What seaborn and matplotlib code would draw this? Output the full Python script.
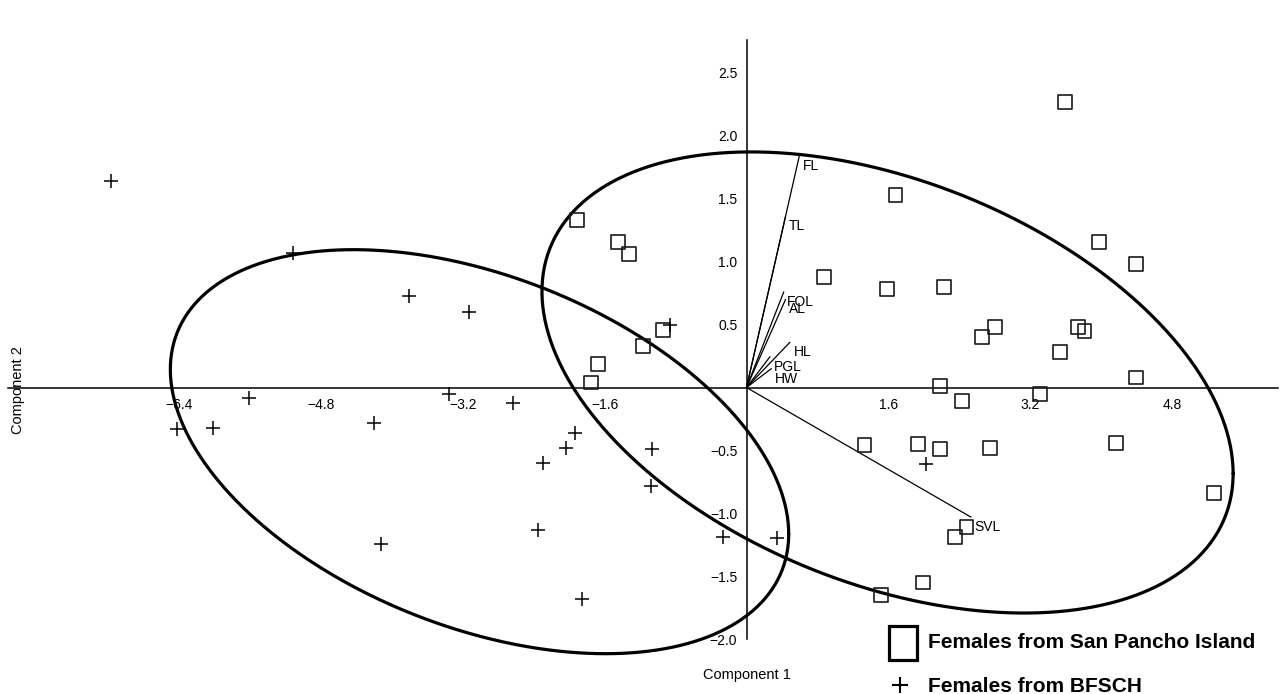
import numpy as np
import matplotlib
matplotlib.use("Agg")
import matplotlib.pyplot as plt
from matplotlib.patches import Rectangle
from matplotlib.lines import Line2D
import seaborn as sns

# PCA scores, females from San Pancho Island
pancho_pc1 = [-1.91, -1.45, -1.32, -0.94, -1.17, -1.67, -1.75,
              3.59, 1.68, 3.97, 4.39, 0.87, 1.58, 2.23, 2.80, 2.65, 3.74, 3.81,
              3.53, 4.39, 2.18, 2.43, 3.31, 1.33, 1.93, 2.18, 2.75, 4.17, 5.27,
              2.48, 2.35, 1.99, 1.52]
pancho_pc2 = [1.33, 1.16, 1.06, 0.46, 0.33, 0.19, 0.04,
              2.27, 1.53, 1.16, 0.98, 0.88, 0.78, 0.80, 0.48, 0.40, 0.48, 0.45,
              0.28, 0.08, 0.01, -0.11, -0.05, -0.46, -0.45, -0.49, -0.48, -0.44, -0.84,
              -1.11, -1.19, -1.55, -1.65]

# PCA scores, females from BFSCH
bfsch_pc1 = [-7.17, -5.11, -3.81, -3.13, -5.61, -6.42, -6.02, -4.20, -3.35, -2.63,
             -1.93, -2.04, -2.29, -1.06, -1.08, -2.35, -4.12, -0.26, 0.34, -1.86,
             -0.86, 2.02]
bfsch_pc2 = [1.64, 1.07, 0.73, 0.60, -0.08, -0.33, -0.32, -0.28, -0.05, -0.12,
             -0.36, -0.48, -0.60, -0.49, -0.78, -1.13, -1.24, -1.19, -1.20, -1.68,
             0.50, -0.61]

# Variable loadings (biplot vectors)
loading_names = ["FL", "TL", "FOL", "AL", "HL", "PGL", "HW", "SVL"]
loading_pc1 = [0.595, 0.44, 0.42, 0.44, 0.49, 0.265, 0.28, 2.53]
loading_pc2 = [1.84, 1.36, 0.76, 0.70, 0.36, 0.245, 0.15, -1.03]

# 95% ellipses: centre and covariance of each group
pancho_center = [1.59, 0.04]
pancho_cov = [[15.18, -2.82], [-2.82, 3.358]]
bfsch_center = [-3.01, -0.51]
bfsch_cov = [[12.15, -2.28], [-2.28, 2.578]]

x_ticks = [-6.4, -4.8, -3.2, -1.6, 1.6, 3.2, 4.8]
y_ticks = [-2.0, -1.5, -1.0, -0.5, 0.5, 1.0, 1.5, 2.0, 2.5]

legend_labels = ["Females from San Pancho Island", "Females from BFSCH"]

sns.set_style("white")
plt.rcParams["font.family"] = ["Liberation Sans", "DejaVu Sans"]
plt.rcParams["text.color"] = "black"
plt.rcParams["axes.labelcolor"] = "black"
plt.rcParams["xtick.color"] = "black"
plt.rcParams["ytick.color"] = "black"

W, H = 1282, 694
fig = plt.figure(figsize=(W / 100, H / 100), dpi=100)
ax = fig.add_axes([0, 0, 1, 1])
ax.set_xlim(-8.416, 6.037)
ax.set_ylim(-2.436, 3.080)
ax.patch.set_alpha(0)


def ellipse_xy(center, cov, n=400):
    t = np.linspace(0, 2 * np.pi, n)
    L = np.linalg.cholesky(np.asarray(cov))
    pts = L @ np.vstack([np.cos(t), np.sin(t)])
    return pts[0] + center[0], pts[1] + center[1]


for c, cv in [(pancho_center, pancho_cov), (bfsch_center, bfsch_cov)]:
    ex, ey = ellipse_xy(c, cv)
    ax.plot(ex, ey, color="black", lw=2.3, zorder=3, solid_capstyle="round")

# loading vectors with their labels
for name, lx, ly in zip(loading_names, loading_pc1, loading_pc2):
    ax.plot([0, lx], [0, ly], color="black", lw=0.9, zorder=2)
    ax.annotate(name, (lx, ly), xytext=(3.5, -10), textcoords="offset pixels",
                ha="left", va="center", fontsize=10, color="black", zorder=4)

sns.scatterplot(x=pancho_pc1, y=pancho_pc2, marker="s", s=100, fc="none",
                ec="#1a1a1a", linewidth=1.2, ax=ax, zorder=5)
sns.scatterplot(x=bfsch_pc1, y=bfsch_pc2, marker="+", s=95, color="black",
                linewidth=1.1, ax=ax, zorder=5)

# axes crossing at the origin
for s in ["top", "right"]:
    ax.spines[s].set_visible(False)
ax.spines["left"].set_position(("data", 0))
ax.spines["bottom"].set_position(("data", 0))
ax.spines["left"].set_bounds(-2.0, 2.76)
ax.spines["bottom"].set_bounds(-8.33, 5.99)
for s in ["left", "bottom"]:
    ax.spines[s].set_linewidth(1.1)
    ax.spines[s].set_color("black")
    ax.spines[s].set_zorder(1)

ax.set_xticks(x_ticks)
ax.set_yticks(y_ticks)
ax.set_xticklabels([f"{v:.1f}".replace("-", "\u2212") for v in x_ticks])
ax.set_yticklabels([f"{v:.1f}".replace("-", "\u2212") for v in y_ticks])
ax.tick_params(axis="x", direction="out", length=3.2, width=1, pad=4,
               labelsize=10, colors="black")
ax.tick_params(axis="y", direction="out", length=3.6, width=1, pad=3,
               labelsize=10, colors="black")
ax.set_xlabel("")
ax.set_ylabel("")


def fx(px):
    return px / W


def fy(py):
    return 1 - py / H


fig.text(fx(747), fy(675), "Component 1", ha="center", va="center", fontsize=10.5)
fig.text(fx(18), fy(390), "Component 2", ha="center", va="center",
         rotation=90, fontsize=10.5)

# legend
fig.add_artist(Rectangle((fx(888.5), fy(659.5)), (917 - 888.5) / W, (659.5 - 625.5) / H,
                         transform=fig.transFigure, fill=False, ec="black", lw=2.3))
fig.add_artist(Line2D([fx(900)], [fy(685)], marker="+", markersize=12,
                      mew=1.5, color="black", transform=fig.transFigure))
fig.text(fx(928), fy(643), legend_labels[0], ha="left", va="center",
         fontsize=15, fontweight="bold")
fig.text(fx(928), fy(686), legend_labels[1], ha="left", va="center",
         fontsize=15, fontweight="bold")

fig.savefig("out.png", dpi=100)
